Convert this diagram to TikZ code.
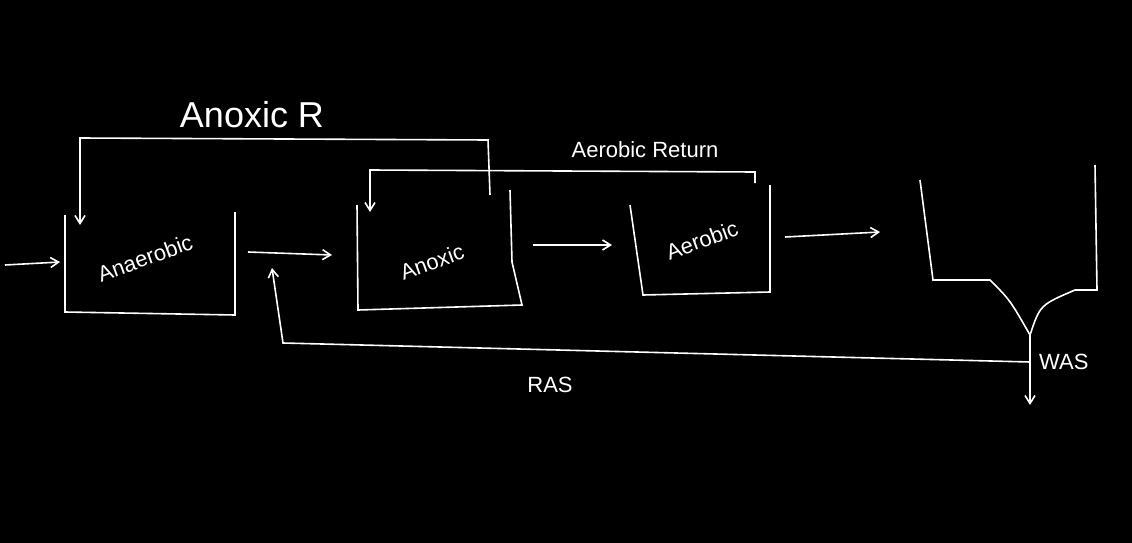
\documentclass[tikz,border=0pt]{standalone}
\usepackage{fontspec}
\setmainfont{Liberation Sans}
\usetikzlibrary{arrows.meta}
\begin{document}
\begin{tikzpicture}[x=1pt,y=-1pt,line width=1.6pt,white,
  arr/.style={-{Straight Barb[length=8pt,width=10pt]}},
  lbl/.style={text=white,font=\fontsize{22}{24}\selectfont},
  blbl/.style={text=white,font=\fontsize{22}{24}\selectfont,rotate=20,inner sep=0pt}]
\fill[black] (0,0) rectangle (1132,543);
\useasboundingbox (0,0) rectangle (1132,543);
% boxes
\draw (65,215) -- (65,312) -- (235,315) -- (235,212);
\draw (357,205) -- (358,310) -- (522,305) -- (512,262) -- (510,190);
\draw (630,205) -- (643,295) -- (770,292) -- (770,185);
\node[blbl] (ana) at (145,258) {Anaerobic};
\node[blbl] (anx) at (432,262) {Anoxic};
\node[blbl] (aer) at (702,240) {Aerobic};
% clarifier
\draw (920,180) -- (933,280) -- (990,280) .. controls (1010,300) .. (1030,335);
\draw (1095,165) -- (1097,290) -- (1075,290) .. controls (1040,305) .. (1030,335);
\coordinate (cb) at (1030,335);
\coordinate (was) at (1030,405);
\draw[arr] (cb) -- (was);
\node[lbl,anchor=west] (wasl) at (1035,362) {WAS};
% flow arrows
\coordinate (in0) at (5,265); \coordinate (in1) at (60,262);
\draw[arr] (in0) -- (in1);
\coordinate (a0) at (248,252); \coordinate (a1) at (332,255);
\draw[arr] (a0) -- (a1);
\coordinate (b0) at (533,245); \coordinate (b1) at (612,245);
\draw[arr] (b0) -- (b1);
\coordinate (c0) at (785,237); \coordinate (c1) at (880,232);
\draw[arr] (c0) -- (c1);
% RAS
\coordinate (r0) at (1030,362);
\coordinate (r1) at (272,268);
\draw[arr] (r0) -- (283,343) -- (r1);
\node[lbl] (ras) at (550,385) {RAS};
% Anoxic R
\coordinate (ar0) at (490,195); \coordinate (ar1) at (80,225);
\draw[arr] (ar0) -- (488,140) -- (80,138) -- (ar1);
\node[text=white,font=\fontsize{36}{38}\selectfont] (arl) at (252,115) {Anoxic R};
% Aerobic Return
\coordinate (ae0) at (755,183); \coordinate (ae1) at (370,212);
\draw[arr] (ae0) -- (755,172) -- (370,170) -- (ae1);
\node[lbl] (ael) at (645,150) {Aerobic Return};
\end{tikzpicture}
\end{document}
